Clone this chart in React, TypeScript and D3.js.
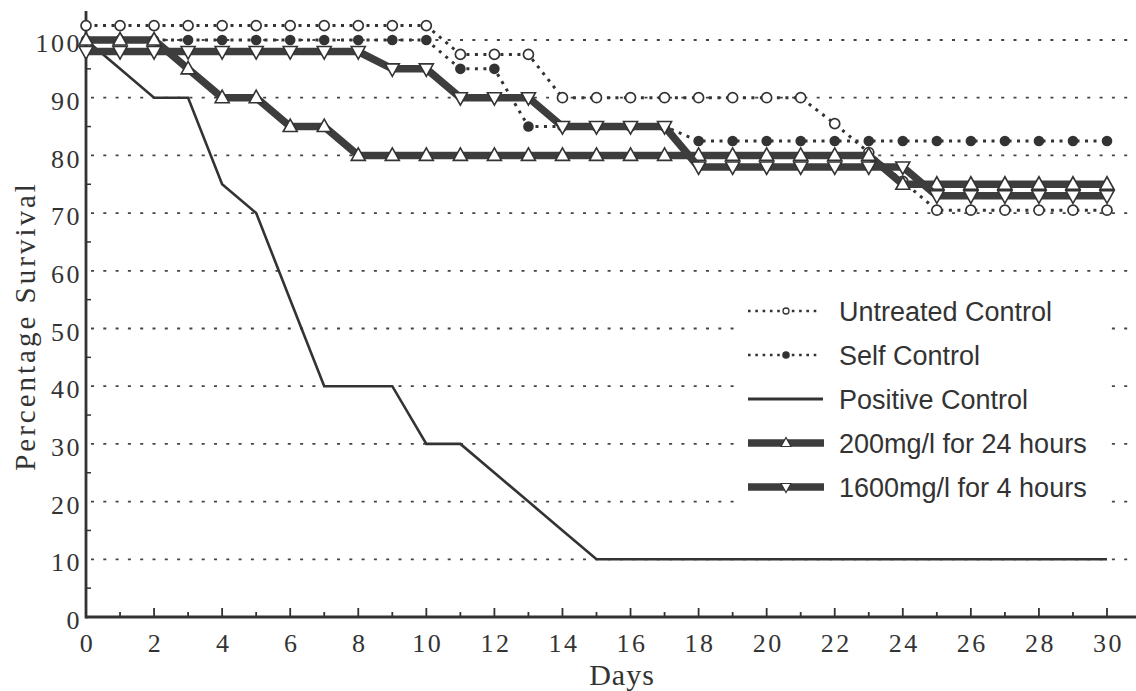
import React, { useEffect, useRef } from 'react';
import * as d3 from 'd3';

// values (percentage survival per day)
const days = [0, 1, 2, 3, 4, 5, 6, 7, 8, 9, 10, 11, 12, 13, 14, 15, 16, 17, 18, 19, 20, 21, 22, 23, 24, 25, 26, 27, 28, 29, 30];

const untreatedControl = [102.5, 102.5, 102.5, 102.5, 102.5, 102.5, 102.5, 102.5, 102.5, 102.5, 102.5,
  97.5, 97.5, 97.5, 90, 90, 90, 90, 90, 90, 90, 90, 85.5, 80.5, 75.5, 70.5, 70.5, 70.5, 70.5, 70.5, 70.5];

const selfControl = [100, 100, 100, 100, 100, 100, 100, 100, 100, 100, 100,
  95, 95, 85, 85, 85, 85, 85, 82.5, 82.5, 82.5, 82.5, 82.5, 82.5, 82.5, 82.5, 82.5, 82.5, 82.5, 82.5, 82.5];

const positiveControl = [100, 95, 90, 90, 75, 70, 55, 40, 40, 40, 30, 30, 25, 20, 15,
  10, 10, 10, 10, 10, 10, 10, 10, 10, 10, 10, 10, 10, 10, 10, 10];

const dose200 = [100, 100, 100, 95, 90, 90, 85, 85, 80, 80, 80, 80, 80, 80, 80, 80,
  80, 80, 80, 80, 80, 80, 80, 80, 75, 75, 75, 75, 75, 75, 75];

const dose1600 = [98, 98, 98, 98, 98, 98, 98, 98, 98, 95, 95, 90, 90, 90, 85, 85,
  85, 85, 78, 78, 78, 78, 78, 78, 78, 73, 73, 73, 73, 73, 73];

const xTicks = [0, 2, 4, 6, 8, 10, 12, 14, 16, 18, 20, 22, 24, 26, 28, 30];
const yTicks = [0, 10, 20, 30, 40, 50, 60, 70, 80, 90, 100];

const legendLabels = [
  'Untreated Control',
  'Self Control',
  'Positive Control',
  '200mg/l for 24 hours',
  '1600mg/l for 4 hours'
];

const W = 1136;
const H = 691;
const INK = '#333';
const SERIF = '"Liberation Serif", "Times New Roman", serif';
const SANS = '"Liberation Sans", Arial, sans-serif';

const triUp = 'M0,-7.5L7,5L-7,5Z';
const triDown = 'M0,7.5L7,-5L-7,-5Z';

const App = () => {
  const svgRef = useRef<SVGSVGElement>(null);

  useEffect(() => {
    const svg = d3.select(svgRef.current);
    svg.selectAll('*').remove();

    const x = d3.scaleLinear().domain([0, 30]).range([86, 1107]);
    const y = d3.scaleLinear().domain([0, 100]).range([617, 40]);

    // dotted gridlines
    svg.append('g')
      .selectAll('line')
      .data(yTicks.filter(d => d > 0))
      .enter().append('line')
      .attr('x1', x(0) + 5)
      .attr('x2', W)
      .attr('y1', d => y(d))
      .attr('y2', d => y(d))
      .attr('stroke', '#444')
      .attr('stroke-width', 1.8)
      .attr('stroke-dasharray', '3 9.3');

    // legend backdrop hides the grid behind it
    svg.append('rect')
      .attr('x', 738)
      .attr('y', 286)
      .attr('width', 368)
      .attr('height', 238)
      .attr('fill', '#fff');

    // axes
    svg.append('line')
      .attr('x1', x(0)).attr('x2', x(0))
      .attr('y1', y(0) + 1.5).attr('y2', 11)
      .attr('stroke', INK).attr('stroke-width', 2.8);
    svg.append('line')
      .attr('x1', x(0)).attr('x2', W)
      .attr('y1', y(0)).attr('y2', y(0))
      .attr('stroke', INK).attr('stroke-width', 2.8);

    // y minor ticks (inside)
    svg.append('g')
      .selectAll('line')
      .data([5, 15, 25, 35, 45, 55, 65, 75, 85, 95])
      .enter().append('line')
      .attr('x1', x(0)).attr('x2', x(0) + 5)
      .attr('y1', d => y(d)).attr('y2', d => y(d))
      .attr('stroke', INK).attr('stroke-width', 1.5);

    // x ticks, major on even days
    svg.append('g')
      .selectAll('line')
      .data(days.slice(1))
      .enter().append('line')
      .attr('x1', d => x(d)).attr('x2', d => x(d))
      .attr('y1', y(0))
      .attr('y2', d => y(0) - (d % 2 === 0 ? 9 : 5))
      .attr('stroke', INK).attr('stroke-width', 1.8);

    // tick labels
    svg.append('g')
      .selectAll('text')
      .data(xTicks)
      .enter().append('text')
      .attr('x', d => x(d) + 1.5)
      .attr('y', 652)
      .attr('text-anchor', 'middle')
      .style('font-family', SERIF)
      .style('font-size', '26px')
      .style('letter-spacing', '2.5px')
      .attr('fill', INK)
      .text(d => d);

    svg.append('g')
      .selectAll('text')
      .data(yTicks)
      .enter().append('text')
      .attr('x', 82)
      .attr('y', d => y(d) + 3)
      .attr('dy', '0.35em')
      .attr('text-anchor', 'end')
      .style('font-family', SERIF)
      .style('font-size', '26px')
      .style('letter-spacing', '2.5px')
      .attr('fill', INK)
      .text(d => d);

    // axis titles
    svg.append('text')
      .attr('x', 622)
      .attr('y', 685)
      .attr('text-anchor', 'middle')
      .style('font-family', SERIF)
      .style('font-size', '30px')
      .style('letter-spacing', '1px')
      .attr('fill', INK)
      .text('Days');

    svg.append('text')
      .attr('transform', 'translate(35, 326) rotate(-90)')
      .attr('text-anchor', 'middle')
      .style('font-family', SERIF)
      .style('font-size', '29px')
      .style('letter-spacing', '3px')
      .attr('fill', INK)
      .text('Percentage Survival');

    const line = d3.line<number>()
      .x((_, i) => x(days[i]))
      .y(d => y(d));

    const plot = svg.append('g');

    // positive control
    plot.append('path')
      .attr('d', line(positiveControl))
      .attr('fill', 'none')
      .attr('stroke', INK)
      .attr('stroke-width', 2.6);

    // untreated control
    plot.append('path')
      .attr('d', line(untreatedControl))
      .attr('fill', 'none')
      .attr('stroke', INK)
      .attr('stroke-width', 3)
      .attr('stroke-dasharray', '3 5.5');
    plot.append('g')
      .selectAll('circle')
      .data(untreatedControl)
      .enter().append('circle')
      .attr('cx', (_, i) => x(days[i]))
      .attr('cy', d => y(d))
      .attr('r', 5)
      .attr('fill', '#fff')
      .attr('stroke', INK)
      .attr('stroke-width', 1.7);

    // self control
    plot.append('path')
      .attr('d', line(selfControl))
      .attr('fill', 'none')
      .attr('stroke', INK)
      .attr('stroke-width', 3)
      .attr('stroke-dasharray', '3 5.5');
    plot.append('g')
      .selectAll('circle')
      .data(selfControl)
      .enter().append('circle')
      .attr('cx', (_, i) => x(days[i]))
      .attr('cy', d => y(d))
      .attr('r', 5.3)
      .attr('fill', INK);

    // thick treatment series with triangle markers
    const thick = (values: number[], shape: string) => {
      plot.append('path')
        .attr('d', line(values))
        .attr('fill', 'none')
        .attr('stroke', '#3d3d3d')
        .attr('stroke-width', 7.5)
        .attr('stroke-linejoin', 'miter');
      plot.append('g')
        .selectAll('path')
        .data(values)
        .enter().append('path')
        .attr('d', shape)
        .attr('transform', (d, i) => `translate(${x(days[i])},${y(d)})`)
        .attr('fill', '#fff')
        .attr('stroke', INK)
        .attr('stroke-width', 1.6);
    };
    thick(dose200, triUp);
    thick(dose1600, triDown);

    // legend
    const rowY = [311, 355, 399, 443, 487];
    const lx0 = 748;
    const lx1 = 821;
    const lmid = 786;
    const legend = svg.append('g');

    legendLabels.forEach((label, i) => {
      const ry = rowY[i];
      const g = legend.append('g');
      if (i < 2) {
        g.append('line')
          .attr('x1', lx0).attr('x2', lx1)
          .attr('y1', ry).attr('y2', ry)
          .attr('stroke', INK).attr('stroke-width', 2.6)
          .attr('stroke-dasharray', '2.6 4.7');
        g.append('circle')
          .attr('cx', lmid).attr('cy', ry)
          .attr('r', i === 0 ? 3 : 3.8)
          .attr('fill', i === 0 ? '#fff' : INK)
          .attr('stroke', INK)
          .attr('stroke-width', i === 0 ? 1.3 : 0);
      } else if (i === 2) {
        g.append('line')
          .attr('x1', lx0).attr('x2', lx1 + 2)
          .attr('y1', ry).attr('y2', ry)
          .attr('stroke', INK).attr('stroke-width', 3);
      } else {
        g.append('line')
          .attr('x1', lx0).attr('x2', lx1 + 3)
          .attr('y1', ry).attr('y2', ry)
          .attr('stroke', '#3d3d3d').attr('stroke-width', 7.5);
        g.append('path')
          .attr('d', i === 3 ? 'M0,-5.5L5,3.5L-5,3.5Z' : 'M0,5.5L5,-3.5L-5,-3.5Z')
          .attr('transform', `translate(${lmid},${ry})`)
          .attr('fill', '#fff')
          .attr('stroke', INK)
          .attr('stroke-width', 1.2);
      }
      g.append('text')
        .attr('x', 839)
        .attr('y', ry)
        .attr('dy', '0.36em')
        .style('font-family', SANS)
        .style('font-size', '27px')
        .attr('fill', INK)
        .text(label);
    });
  }, []);

  return (
    <svg
      ref={svgRef}
      width={W}
      height={H}
      style={{ position: 'absolute', left: 0, top: 0, background: '#fff' }}
    />
  );
};

export default App;
